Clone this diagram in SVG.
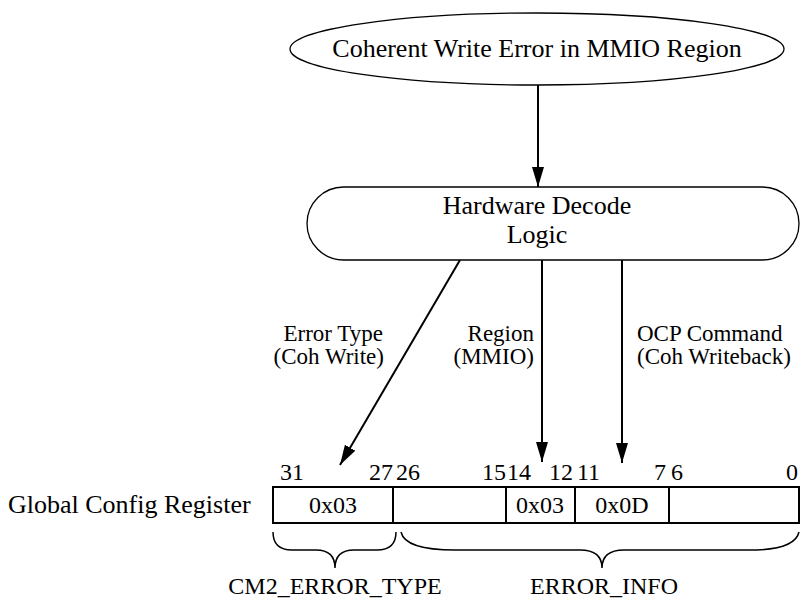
<svg xmlns="http://www.w3.org/2000/svg" width="801" height="599" viewBox="0 0 801 599" font-family="'Liberation Serif', 'Times New Roman', 'DejaVu Serif', serif">
<defs>
<marker id="ah" viewBox="0 0 20 12" refX="20" refY="6" markerWidth="20" markerHeight="12" markerUnits="userSpaceOnUse" orient="auto">
<path d="M0,0 L20,6 L0,12 Z" fill="#000"/>
</marker>
<style>
text{fill:#000}
.n{font-size:26px;text-anchor:middle}
.e{font-size:23px}
.b{font-size:24px}
.v{font-size:24px;text-anchor:middle}
.shape{fill:#fff;stroke:#000;stroke-width:1.3}
.reg{fill:#fff;stroke:#000;stroke-width:2}
.c{fill:none;stroke:#000;stroke-width:2}
.br{fill:none;stroke:#000;stroke-width:1.5}
</style>
</defs>
<rect width="801" height="599" fill="#fff"/>
<g id="connectors">
<line class="c" x1="538" y1="85" x2="538" y2="187" marker-end="url(#ah)"/>
<line class="c" x1="460" y1="260" x2="340" y2="465" stroke-width="1.5" marker-end="url(#ah)"/>
<line class="c" x1="542" y1="260" x2="542" y2="462" marker-end="url(#ah)"/>
<line class="c" x1="622" y1="260" x2="622" y2="463" marker-end="url(#ah)"/>
<text class="e" x="383" y="341" text-anchor="end" font-family="Liberation Serif, serif">Error Type</text>
<text class="e" x="384" y="364" text-anchor="end" font-family="Liberation Serif, serif">(Coh Write)</text>
<text class="e" x="534" y="341" text-anchor="end" font-family="Liberation Serif, serif">Region</text>
<text class="e" x="534" y="364" text-anchor="end" font-family="Liberation Serif, serif">(MMIO)</text>
<text class="e" x="637" y="341" font-family="Liberation Serif, serif">OCP Command</text>
<text class="e" x="637" y="364" font-family="Liberation Serif, serif">(Coh Writeback)</text>
</g>
<g id="event">
<ellipse class="shape" cx="537" cy="49" rx="247" ry="36"/>
<text class="n" x="537" y="57" font-family="Liberation Serif, serif">Coherent Write Error in MMIO Region</text>
</g>
<g id="decode">
<rect class="shape" x="307" y="187" width="492" height="73" rx="36.5" ry="36.5"/>
<text class="n" x="537" y="214" font-family="Liberation Serif, serif">Hardware Decode</text>
<text class="n" x="537" y="243" font-family="Liberation Serif, serif">Logic</text>
</g>
<g id="register" font-family="Liberation Serif, serif">
<text x="8" y="513" font-size="26">Global Config Register</text>
<rect class="reg" x="273" y="487" width="526" height="36"/>
<line class="reg" x1="393" y1="487" x2="393" y2="523"/>
<line class="reg" x1="506" y1="487" x2="506" y2="523"/>
<line class="reg" x1="575" y1="487" x2="575" y2="523"/>
<line class="reg" x1="669" y1="487" x2="669" y2="523"/>
<text class="b" x="280" y="480">31</text>
<text class="b" x="393" y="480" text-anchor="end">27</text>
<text class="b" x="396" y="480">26</text>
<text class="b" x="506" y="480" text-anchor="end">15</text>
<text class="b" x="507" y="480">14</text>
<text class="b" x="573" y="480" text-anchor="end">12</text>
<text class="b" x="577" y="480">11</text>
<text class="b" x="666" y="480" text-anchor="end">7</text>
<text class="b" x="671" y="480">6</text>
<text class="b" x="798" y="480" text-anchor="end">0</text>
<text class="v" x="333" y="513">0x03</text>
<text class="v" x="540" y="513">0x03</text>
<text class="v" x="622" y="513">0x0D</text>
</g>
<g id="cm2-error-type" font-family="Liberation Serif, serif">
<path class="br" d="M273,532 Q273,550 292,550 L316,550 Q335,550 335,568 Q335,550 354,550 L377,550 Q396,550 396,532"/>
<text class="v" x="335" y="594">CM2_ERROR_TYPE</text>
</g>
<g id="error-info" font-family="Liberation Serif, serif">
<path class="br" d="M401,532 Q405,550 455,550 L580,550 Q602,550 602,568 Q602,550 624,550 L750,550 Q795,550 799,532"/>
<text class="v" x="604" y="594">ERROR_INFO</text>
</g>
</svg>
